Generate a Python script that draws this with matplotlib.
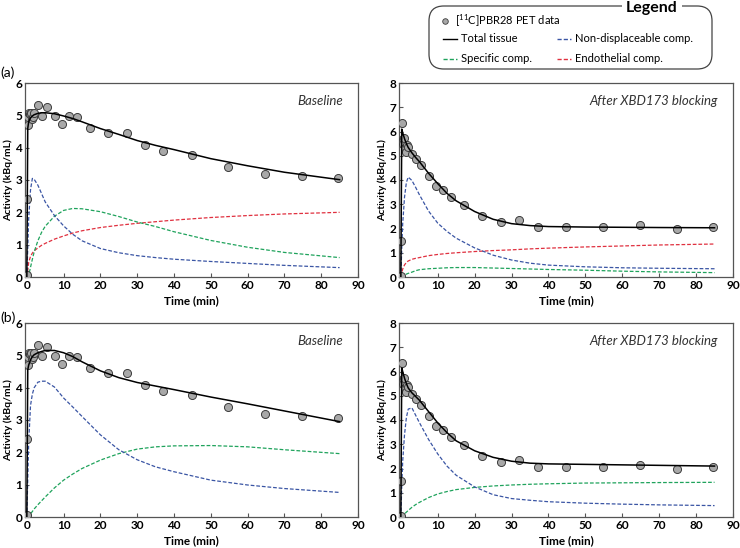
import matplotlib
matplotlib.use("Agg")
import matplotlib.pyplot as plt
from matplotlib.lines import Line2D
from matplotlib.patches import FancyBboxPatch

plt.rcParams['font.family'] = ['Lato', 'DejaVu Sans']
plt.rcParams['mathtext.default'] = 'regular'

# measured PET frames (min)
pet_t = [0.0, 0.1, 0.25, 0.45, 0.65, 0.85, 1.1, 1.3, 1.55, 2.0, 2.9, 4.1, 5.4, 7.6,
         9.6, 11.5, 13.5, 17.1, 22.1, 27.1, 32.1, 37.1, 44.8, 54.7, 64.7, 74.7, 84.7]
pet_baseline = [0.05, 2.4, 4.95, 4.69, 5.08, 5.05, 5.08, 4.88, 4.95, 5.08, 5.32, 4.98, 5.27, 4.98,
                4.72, 4.98, 4.94, 4.61, 4.45, 4.45, 4.07, 3.90, 3.78, 3.40, 3.19, 3.13, 3.05]
pet_blocked = [0.04, 1.5, 6.35, 5.68, 5.5, 5.72, 5.3, 5.15, 5.45, 5.38, 5.07, 4.86, 4.62, 4.16,
               3.76, 3.58, 3.30, 2.97, 2.50, 2.26, 2.36, 2.08, 2.08, 2.05, 2.16, 2.00, 2.05]

fit_t = [0, 0.25, 0.5, 1, 1.5, 2, 3, 4, 5, 7.5, 10, 12.5, 15, 20, 25, 30, 35, 40, 50, 60, 70, 85]

# (a) baseline
a_base_total = [0, 4.6, 4.8, 4.92, 4.98, 5.02, 5.06, 5.08, 5.08, 5.05, 4.98, 4.9, 4.8, 4.59, 4.41,
                4.22, 4.07, 3.94, 3.66, 3.44, 3.24, 3.01]
a_base_nd = [0, 0.9, 1.8, 2.7, 3.05, 3.02, 2.84, 2.58, 2.32, 1.9, 1.58, 1.32, 1.12, 0.88, 0.75,
             0.66, 0.6, 0.55, 0.48, 0.42, 0.36, 0.29]
a_base_sp = [0, 0, 0.05, 0.3, 0.55, 0.78, 1.12, 1.38, 1.57, 1.88, 2.06, 2.12, 2.11, 2.02, 1.87,
             1.7, 1.56, 1.4, 1.13, 0.92, 0.76, 0.6]
a_base_en = [0, 0.2, 0.45, 0.64, 0.74, 0.81, 0.9, 0.98, 1.04, 1.17, 1.27, 1.36, 1.43, 1.53, 1.6,
             1.66, 1.71, 1.76, 1.84, 1.9, 1.95, 2.0]

# (a) after XBD173
a_blk_total = [0, 6.1, 5.95, 5.7, 5.5, 5.34, 5.12, 4.93, 4.76, 4.28, 3.85, 3.45, 3.14, 2.7, 2.38,
               2.2, 2.12, 2.08, 2.06, 2.05, 2.04, 2.03]
a_blk_nd = [0, 1.2, 2.2, 3.3, 3.9, 4.12, 3.98, 3.7, 3.4, 2.72, 2.22, 1.88, 1.6, 1.2, 0.9,
            0.7, 0.57, 0.49, 0.42, 0.38, 0.36, 0.34]
a_blk_sp = [0, 0, 0.02, 0.07, 0.12, 0.15, 0.2, 0.26, 0.3, 0.34, 0.36, 0.38, 0.39, 0.39, 0.37,
            0.35, 0.33, 0.31, 0.28, 0.24, 0.21, 0.18]
a_blk_en = [0, 0.15, 0.33, 0.5, 0.6, 0.66, 0.73, 0.77, 0.8, 0.88, 0.93, 0.97, 1.0, 1.05, 1.09,
            1.12, 1.16, 1.19, 1.24, 1.28, 1.32, 1.36]

# (b) baseline
b_base_total = [0, 4.55, 4.7, 4.86, 4.96, 5.02, 5.08, 5.12, 5.15, 5.15, 5.08, 4.96, 4.8, 4.52, 4.31,
                4.16, 4.05, 3.94, 3.71, 3.5, 3.28, 2.95]
b_base_nd = [0, 1.2, 2.3, 3.45, 3.8, 4.0, 4.17, 4.2, 4.2, 4.02, 3.68, 3.4, 3.11, 2.54, 2.08,
             1.77, 1.55, 1.4, 1.14, 0.99, 0.88, 0.76]
b_base_sp = [0, 0, 0.02, 0.1, 0.17, 0.25, 0.38, 0.5, 0.62, 0.9, 1.14, 1.33, 1.5, 1.76, 1.96,
             2.1, 2.17, 2.2, 2.21, 2.17, 2.08, 1.96]

# (b) after XBD173
b_blk_total = [0, 6.15, 6.0, 5.72, 5.5, 5.32, 5.12, 4.97, 4.82, 4.35, 3.88, 3.48, 3.14, 2.73, 2.46,
               2.3, 2.22, 2.19, 2.17, 2.15, 2.13, 2.1]
b_blk_nd = [0, 1.3, 2.3, 3.4, 4.1, 4.45, 4.5, 4.2, 3.9, 3.2, 2.6, 2.1, 1.72, 1.24, 0.92,
            0.76, 0.69, 0.63, 0.57, 0.53, 0.5, 0.47]
b_blk_sp = [0, 0.02, 0.06, 0.13, 0.2, 0.27, 0.4, 0.51, 0.6, 0.8, 0.95, 1.05, 1.13, 1.22, 1.28,
            1.32, 1.35, 1.37, 1.4, 1.41, 1.42, 1.43]

C_ND = '#3a55a4'
C_SP = '#1fa35c'
C_EN = '#e0303f'
DASH = (0, (3.0, 1.5))


def draw_panel(ax, pet, total, nd, sp, en, ymax, title):
    if en is not None:
        ax.plot(fit_t, en, color=C_EN, lw=0.9, linestyle=DASH)
    ax.plot(fit_t, sp, color=C_SP, lw=0.9, linestyle=DASH)
    ax.plot(fit_t, nd, color=C_ND, lw=0.9, linestyle=DASH)
    ax.plot(pet_t, pet, 'o', ms=5.8, mfc='#a8a8a8', mec='#3c3c3c', mew=0.7, zorder=3)
    ax.plot(fit_t, total, color='black', lw=1.1, zorder=4)
    ax.set_xlim(-0.5, 90)
    ax.set_ylim(0, ymax)
    ax.set_xticks(range(0, 91, 10))
    ax.set_yticks(range(0, ymax + 1))
    ax.tick_params(direction='in', length=3, width=0.8, color='#555555', labelsize=8.5, pad=2)
    for lab in ax.get_xticklabels() + ax.get_yticklabels():
        lab.set_fontweight('bold')
    for s in ax.spines.values():
        s.set_color('#555555')
        s.set_linewidth(0.9)
    ax.set_xlabel('Time (min)', fontsize=8.5, fontweight='bold', labelpad=3)
    ax.set_ylabel('Activity (kBq/mL)', fontsize=7.5, fontweight='bold', labelpad=2)
    ax.text(0.955, 0.905, title, transform=ax.transAxes, ha='right', va='center',
            fontsize=9.5, style='italic', color='#333333')


fig = plt.figure(figsize=(7.4, 5.48), dpi=100)

W = 740.0
H = 548.0


def box(l, t, r, b):
    return [l / W, 1 - b / H, (r - l) / W, (b - t) / H]


ax1 = fig.add_axes(box(25, 83, 358, 277))
ax2 = fig.add_axes(box(399, 83, 733, 277))
ax3 = fig.add_axes(box(25, 323, 358, 517))
ax4 = fig.add_axes(box(399, 323, 733, 517))

draw_panel(ax1, pet_baseline, a_base_total, a_base_nd, a_base_sp, a_base_en, 6, 'Baseline')
draw_panel(ax2, pet_blocked, a_blk_total, a_blk_nd, a_blk_sp, a_blk_en, 8, 'After XBD173 blocking')
draw_panel(ax3, pet_baseline, b_base_total, b_base_nd, b_base_sp, None, 6, 'Baseline')
draw_panel(ax4, pet_blocked, b_blk_total, b_blk_nd, b_blk_sp, None, 8, 'After XBD173 blocking')

fig.text(0 / W, 1 - 73 / H, '(a)', fontsize=10, va='center', ha='left')
fig.text(0 / W, 1 - 318 / H, '(b)', fontsize=10, va='center', ha='left')

# legend box drawn by hand
lb = FancyBboxPatch((429 / W, 1 - 69 / H), 283 / W, 63 / H,
                    boxstyle='round,pad=0,rounding_size=0.02', transform=fig.transFigure,
                    fc='white', ec='#444444', lw=0.9, mutation_aspect=W / H)
fig.add_artist(lb)
fig.text(652 / W, 1 - 8 / H, 'Legend', fontsize=11.5, fontweight='bold', ha='center', va='center',
         bbox=dict(fc='white', ec='none', pad=3))


def fy(y):
    return 1 - y / H


fig.add_artist(Line2D([445 / W], [fy(21)], marker='o', ms=4, mfc='#a8a8a8', mec='#3c3c3c',
                      mew=0.6, transform=fig.transFigure))
fig.text(455 / W, fy(21), '[$^{11}$C]PBR28 PET data', fontsize=8, va='center')

entries = [
    (443, 39, 'black', '-', 'Total tissue'),
    (557, 39, C_ND, DASH, 'Non-displaceable comp.'),
    (443, 59, C_SP, DASH, 'Specific comp.'),
    (557, 59, C_EN, DASH, 'Endothelial comp.'),
]
for x0, y0, c, ls, label in entries:
    fig.add_artist(Line2D([x0 / W, (x0 + 14) / W], [fy(y0), fy(y0)], color=c, lw=1.0,
                          linestyle=ls, transform=fig.transFigure))
    fig.text((x0 + 18) / W, fy(y0), label, fontsize=8, va='center')

fig.savefig('out.png', dpi=100)
